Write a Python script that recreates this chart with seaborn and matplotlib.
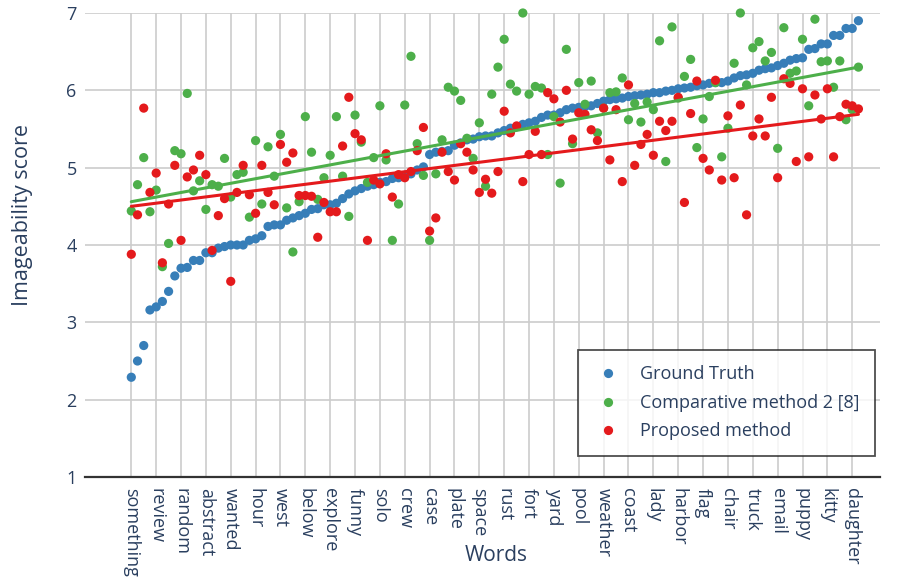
import numpy as np
import pandas as pd
import matplotlib
matplotlib.use("Agg")
import matplotlib.pyplot as plt
import seaborn as sns

tick_words = ["something", "review", "random", "abstract", "wanted", "hour", "west",
              "below", "explore", "funny", "solo", "crew", "case", "plate", "space",
              "rust", "fort", "yard", "pool", "weather", "coast", "lady", "harbor",
              "flag", "chair", "truck", "email", "puppy", "kitty", "daughter"]
tick_step = 4

ground_truth = [
    2.29, 2.50, 2.70, 3.16, 3.20, 3.27, 3.40, 3.60, 3.70, 3.71,
    3.80, 3.80, 3.90, 3.90, 3.96, 3.98, 4.00, 4.00, 4.00, 4.06,
    4.08, 4.12, 4.24, 4.26, 4.26, 4.32, 4.35, 4.38, 4.41, 4.46,
    4.47, 4.52, 4.52, 4.54, 4.60, 4.66, 4.70, 4.73, 4.76, 4.78,
    4.81, 4.82, 4.86, 4.87, 4.90, 4.92, 4.97, 5.01, 5.17, 5.20,
    5.21, 5.22, 5.29, 5.32, 5.36, 5.37, 5.40, 5.41, 5.41, 5.45,
    5.48, 5.51, 5.53, 5.56, 5.58, 5.60, 5.65, 5.68, 5.68, 5.71,
    5.75, 5.77, 5.78, 5.79, 5.80, 5.83, 5.86, 5.88, 5.89, 5.90,
    5.92, 5.93, 5.94, 5.95, 5.97, 5.97, 5.99, 6.00, 6.02, 6.03,
    6.04, 6.06, 6.07, 6.09, 6.10, 6.10, 6.12, 6.16, 6.19, 6.20,
    6.22, 6.26, 6.28, 6.29, 6.32, 6.35, 6.39, 6.41, 6.42, 6.53,
    6.54, 6.60, 6.60, 6.71, 6.71, 6.80, 6.80, 6.90]

comparative = [
    4.44, 4.78, 5.13, 4.43, 4.71, 3.72, 4.02, 5.22, 5.18, 5.96,
    4.70, 4.83, 4.46, 4.78, 4.76, 5.12, 4.62, 4.91, 4.94, 4.36,
    5.35, 4.53, 5.27, 4.89, 5.43, 4.48, 3.91, 4.56, 5.66, 5.20,
    4.59, 4.87, 5.16, 5.66, 4.89, 4.37, 5.68, 5.33, 4.81, 5.13,
    5.80, 5.10, 4.06, 4.53, 5.81, 6.44, 5.31, 4.90, 4.06, 4.92,
    5.36, 6.04, 5.99, 5.87, 5.38, 5.12, 5.58, 4.76, 5.95, 6.30,
    6.66, 6.08, 5.99, 7.00, 5.95, 6.05, 6.03, 5.17, 5.66, 4.80,
    6.53, 5.31, 6.10, 5.82, 6.12, 5.45, 5.77, 5.97, 5.98, 6.16,
    5.62, 5.83, 5.59, 5.85, 5.75, 6.64, 5.08, 6.82, 5.90, 6.18,
    6.40, 5.26, 5.63, 5.92, 6.10, 5.14, 5.51, 6.35, 7.00, 6.07,
    6.55, 6.63, 6.38, 6.49, 5.25, 6.81, 6.22, 6.25, 6.66, 5.80,
    6.92, 6.37, 6.38, 6.04, 6.38, 5.62, 5.75, 6.30]

proposed = [
    3.88, 4.39, 5.77, 4.68, 4.93, 3.77, 4.53, 5.03, 4.06, 4.88,
    4.97, 5.16, 4.91, 3.93, 4.38, 4.60, 3.53, 4.68, 5.03, 4.65,
    4.41, 5.03, 4.68, 4.52, 5.30, 5.07, 5.19, 4.64, 4.64, 4.63,
    4.10, 4.55, 4.43, 4.43, 5.28, 5.91, 5.44, 5.36, 4.06, 4.84,
    4.79, 5.18, 4.62, 4.91, 4.87, 4.95, 5.22, 5.52, 4.18, 4.35,
    5.20, 4.95, 4.84, 5.31, 5.20, 4.97, 4.68, 4.85, 4.67, 4.95,
    5.73, 5.45, 5.54, 4.82, 5.17, 5.47, 5.17, 5.97, 5.89, 5.59,
    6.00, 5.37, 5.71, 5.69, 5.49, 5.35, 5.77, 5.10, 5.75, 4.82,
    6.07, 5.03, 5.30, 5.43, 5.16, 5.60, 5.48, 5.60, 5.91, 4.55,
    5.70, 6.12, 5.12, 4.97, 6.13, 4.84, 5.67, 4.87, 5.81, 4.39,
    5.41, 5.63, 5.41, 5.91, 4.87, 6.15, 6.09, 5.08, 6.02, 5.14,
    5.94, 5.63, 6.02, 5.14, 5.66, 5.82, 5.80, 5.76]

# trend lines (value at first word, value at last word)
trend_comparative = [4.56, 6.30]
trend_proposed = [4.50, 5.69]

series_names = ["Ground Truth", "Comparative method 2 [8]", "Proposed method"]
colors = ["#377eb8", "#4daf4a", "#e41a1c"]

n = len(ground_truth)
idx = np.arange(n)
df = pd.DataFrame({
    "word_index": np.concatenate([idx, idx, idx]),
    "score": np.concatenate([ground_truth, comparative, proposed]),
    "series": np.repeat(series_names, n),
})

trend_df = pd.DataFrame({
    "word_index": [idx[0], idx[-1], idx[0], idx[-1]],
    "score": trend_comparative + trend_proposed,
    "series": [series_names[1]] * 2 + [series_names[2]] * 2,
})

text_color = "#2a3f5f"
sns.set_style("white")
plt.rcParams["font.family"] = ["Open Sans", "DejaVu Sans"]

W, H = 898, 583
fig = plt.figure(figsize=(W / 100, H / 100), dpi=100)
L, R, T, B = 85, 880, 13, 477
ax = fig.add_axes([L / W, 1 - B / H, (R - L) / W, (B - T) / H])

sns.scatterplot(data=df, x="word_index", y="score", hue="series",
                hue_order=series_names, palette=colors, s=44, linewidth=0,
                ax=ax, zorder=3, clip_on=False, legend=True)

sns.lineplot(data=trend_df, x="word_index", y="score", hue="series",
             hue_order=series_names[1:], palette=colors[1:], linewidth=2.2,
             ax=ax, zorder=4, legend=False)

ax.set_xlim(-7.45, 120.47)
ax.set_ylim(1, 7)
ax.set_yticks(range(1, 8))
ax.set_xticks(idx[::tick_step])
ax.set_xticklabels(tick_words, rotation=-90, va="top", ha="center")
ax.tick_params(axis="x", length=0, pad=8, labelsize=13, labelcolor=text_color)
ax.tick_params(axis="y", length=0, pad=6, labelsize=13, labelcolor=text_color)

ax.grid(True, color="#cccccc", linewidth=1.2)
ax.set_axisbelow(True)
for s in ["left", "right", "top"]:
    ax.spines[s].set_visible(False)
ax.spines["bottom"].set_color("#333333")
ax.spines["bottom"].set_linewidth(1.6)
ax.spines["bottom"].set_zorder(5)

ax.set_xlabel("Words", fontsize=15, color=text_color)
ax.set_ylabel("Imageability score", fontsize=15.5, color=text_color)
ax.xaxis.set_label_coords((496 - L) / (R - L), (B - 545) / (B - T))
ax.yaxis.set_label_coords((33 - L) / (R - L), (B - 215) / (B - T))

handles, labels = ax.get_legend_handles_labels()
leg = ax.legend(handles, labels, loc="upper left",
                bbox_to_anchor=((578 - L) / (R - L), (B - 350) / (B - T)),
                frameon=True, fancybox=False, edgecolor="#222222",
                fontsize=13, handletextpad=0.95, borderpad=0.85,
                labelspacing=0.58, handlelength=1.65, borderaxespad=0,
                title=None)
leg.get_frame().set_linewidth(1.3)
for t in leg.get_texts():
    t.set_color(text_color)

fig.savefig("out.png", dpi=100)
